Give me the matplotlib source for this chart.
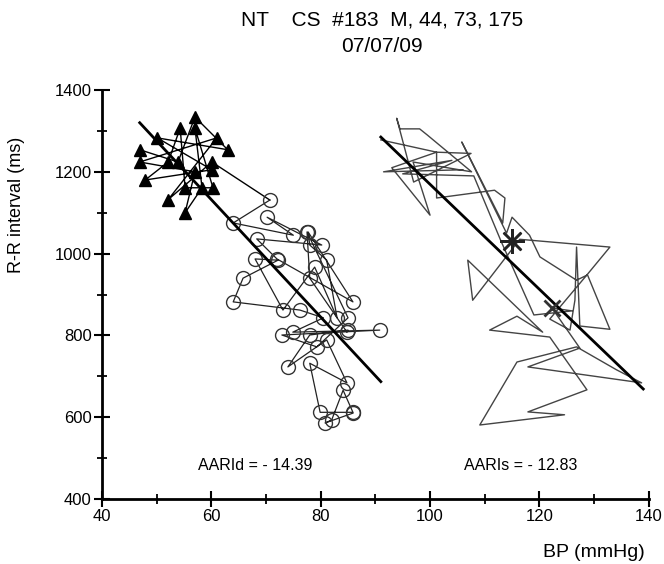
import numpy as np
import matplotlib.pyplot as plt
from matplotlib.ticker import MultipleLocator

plt.rcParams['font.family'] = ['Liberation Sans', 'DejaVu Sans']

# triangles (early beats), BP in mmHg, R-R in ms
tri_bp = [46.9, 53.9, 57.0, 63.0, 50.1, 60.1, 47.9, 52.1, 54.3, 55.2,
          60.3, 57.0, 58.3, 55.2, 57.0, 46.9, 61.0, 52.1, 60.1]
tri_rr = [1254, 1224, 1334, 1254, 1283, 1205, 1180, 1224, 1307, 1161,
          1161, 1307, 1161, 1100, 1200, 1224, 1283, 1132, 1224]

# circles
circ_bp = [70.7, 64.0, 75.0, 70.2, 80.2, 68.3, 72.0, 85.9, 77.7, 78.0,
           81.1, 83.0, 78.9, 73.1, 68.0, 72.2, 65.8, 64.0, 76.2, 80.5,
           74.9, 90.8, 72.9, 79.3, 85.0, 77.5, 78.0, 84.8, 85.0, 78.0,
           74.0, 81.1, 84.8, 78.0, 79.9, 85.9, 84.1, 82.0, 80.8, 85.9]
circ_rr = [1131, 1075, 1045, 1089, 1021, 1036, 987, 882, 1053, 1021,
           984, 843, 967, 862, 987, 984, 940, 882, 862, 843,
           808, 813, 801, 772, 843, 1053, 940, 808, 813, 801,
           723, 789, 684, 732, 612, 612, 666, 593, 586, 610]

# right trace
sys_bp = [91.0, 101.2, 107.5, 97.0, 93.9, 94.5, 98.1, 99.5, 107.6, 96.9,
          100.0, 93.0, 101.2, 101.2, 111.8, 113.7, 113.3, 105.8, 114.0, 115.0,
          118.2, 120.1, 126.8, 128.8, 132.9, 127.4, 126.8, 126.5, 125.6, 121.9,
          128.7, 132.9, 116.4, 107.8, 106.9, 120.6, 115.9, 110.9, 121.9, 128.7,
          117.9, 124.6, 109.1, 115.9, 126.8, 134.1, 138.7, 117.9, 127.4, 122.3,
          126.0, 119.0, 113.0, 108.0, 95.0, 104.0, 91.5, 106.0]
sys_rr = [1278, 1248, 1245, 1175, 1331, 1305, 1305, 1290, 1200, 1224,
          1094, 1210, 1248, 1136, 1155, 1136, 1075, 1273, 1050, 1089,
          1045, 992, 935, 948, 815, 823, 1016, 886, 813, 840,
          948, 1016, 1035, 886, 984, 808, 847, 813, 796, 667,
          613, 606, 581, 735, 772, 716, 684, 723, 769, 867,
          860, 850, 1030, 1190, 1195, 1228, 1200, 1205]

fit_d_bp = [46.9, 91.0]
fit_d_rr = [1320, 687]
fit_s_bp = [91.0, 139.0]
fit_s_rr = [1285, 669]

star_bp, star_rr = 115.0, 1030
cross_bp, cross_rr = 122.3, 867

fig = plt.figure(figsize=(6.64, 5.64), dpi=100)
ax = fig.add_axes([0.1536, 0.1152, 0.8234, 0.7252])

ax.plot(tri_bp, tri_rr, color='black', lw=1.0, marker='^', ms=8,
        mfc='black', mec='black', zorder=3)
ax.plot([tri_bp[-1], circ_bp[0]], [tri_rr[-1], circ_rr[0]], color='black', lw=1.0)
ax.plot(circ_bp, circ_rr, color='#222222', lw=0.9, marker='o', ms=10,
        mfc='none', mec='#333333', mew=1.0, zorder=3)
ax.plot(sys_bp, sys_rr, color='#444444', lw=1.0, zorder=2)

ax.plot(fit_d_bp, fit_d_rr, color='black', lw=2.0, zorder=4)
ax.plot(fit_s_bp, fit_s_rr, color='black', lw=2.0, zorder=4)
ax.plot([star_bp], [star_rr], marker=(8, 2, 0), ms=18, mew=1.8,
        color='#222222', zorder=5)
ax.plot([cross_bp], [cross_rr], marker='x', ms=11, mew=2.0,
        color='#333333', zorder=5)

ax.text(68, 483, 'AARId = - 14.39', ha='center', va='center', fontsize=11.5)
ax.text(116.5, 483, 'AARIs = - 12.83', ha='center', va='center', fontsize=11.5)

ax.set_xlim(40, 140)
ax.set_ylim(400, 1400)
ax.xaxis.set_major_locator(MultipleLocator(20))
ax.xaxis.set_minor_locator(MultipleLocator(10))
ax.yaxis.set_major_locator(MultipleLocator(200))
ax.yaxis.set_minor_locator(MultipleLocator(100))
for s in ['top', 'right']:
    ax.spines[s].set_visible(False)
for s in ['left', 'bottom']:
    ax.spines[s].set_linewidth(2.0)
    ax.spines[s].set_clip_on(False)
ax.tick_params(which='major', direction='inout', length=11, width=1.5,
               labelsize=12, pad=2)
ax.tick_params(which='minor', direction='inout', length=7, width=1.3)

ax.set_ylabel('R-R interval (ms)', fontsize=13)
ax.yaxis.set_label_coords(-0.14, 0.72)
ax.set_xlabel('BP (mmHg)', fontsize=14)
ax.xaxis.set_label_coords(0.9, -0.11)

fig.text(0.575, 0.965, 'NT    CS  #183  M, 44, 73, 175', ha='center', va='center', fontsize=15)
fig.text(0.575, 0.918, '07/07/09', ha='center', va='center', fontsize=15)

fig.savefig('out.png', dpi=100)
